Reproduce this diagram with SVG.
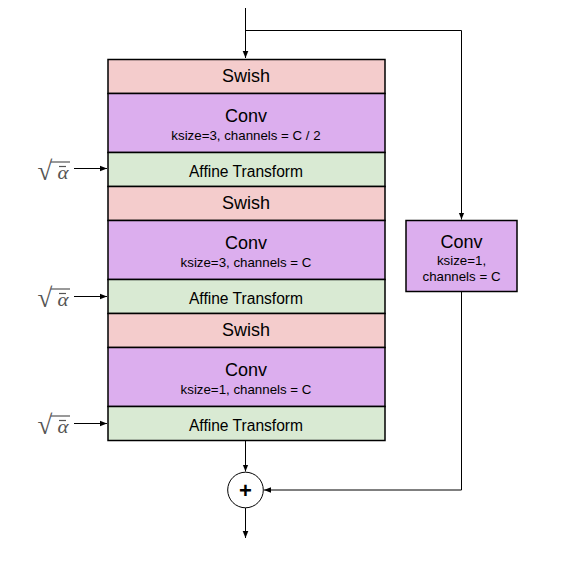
<svg xmlns="http://www.w3.org/2000/svg" width="575" height="566" viewBox="0 0 575 566">
<defs>
<marker id="arr" markerWidth="8" markerHeight="8" refX="7" refY="4" orient="auto" markerUnits="userSpaceOnUse">
<path d="M0,1.2 L7,4 L0,6.8 z" fill="#000"/>
</marker>
<style>
.box{stroke:#000;stroke-width:1.5}
.swish{fill:#f4cccc}
.conv{fill:#dcaeee}
.aff{fill:#d9ead3}
.t{font-family:"Liberation Sans",Arial,sans-serif;text-anchor:middle;fill:#000}
.big{font-size:18px}
.sub{font-size:13.3px}
.af{font-size:15.6px}
.ln{stroke:#000;stroke-width:1;fill:none}
.sq{font-family:"Liberation Serif","DejaVu Serif",serif;fill:#555}
.rad{font-size:27px}
.al{font-size:18px;font-style:italic}
.bar{stroke:#555;stroke-width:1.2}
</style>
</defs>
<rect width="575" height="566" fill="#fff"/>

<g id="swish1"><rect class="box swish" x="108" y="59.5" width="277" height="34"/><text class="t big" x="246" y="82">Swish</text></g>
<g id="conv1"><rect class="box conv" x="108" y="93.5" width="277" height="59"/><text class="t big" x="246" y="121.5">Conv</text><text class="t sub" x="246" y="139.5">ksize=3, channels = C / 2</text></g>
<g id="affine1"><rect class="box aff" x="108" y="152.5" width="277" height="34"/><text class="t af" x="246" y="176.5">Affine Transform</text></g>

<g id="swish2"><rect class="box swish" x="108" y="186.5" width="277" height="34"/><text class="t big" x="246" y="209">Swish</text></g>
<g id="conv2"><rect class="box conv" x="108" y="220.5" width="277" height="59"/><text class="t big" x="246" y="248.5">Conv</text><text class="t sub" x="246" y="266.5">ksize=3, channels = C</text></g>
<g id="affine2"><rect class="box aff" x="108" y="279.5" width="277" height="34"/><text class="t af" x="246" y="303.5">Affine Transform</text></g>

<g id="swish3"><rect class="box swish" x="108" y="313.5" width="277" height="34"/><text class="t big" x="246" y="336">Swish</text></g>
<g id="conv3"><rect class="box conv" x="108" y="347.5" width="277" height="59"/><text class="t big" x="246" y="375.5">Conv</text><text class="t sub" x="246" y="393.5">ksize=1, channels = C</text></g>
<g id="affine3"><rect class="box aff" x="108" y="406.5" width="277" height="34"/><text class="t af" x="246" y="430.5">Affine Transform</text></g>

<g id="convSkip"><rect class="box conv" x="406" y="220.5" width="111" height="71"/><text class="t big" x="461.5" y="247.5">Conv</text><text class="t sub" x="461.5" y="265">ksize=1,</text><text class="t sub" x="461.5" y="280.5">channels = C</text></g>

<g id="sum"><circle cx="245.5" cy="490" r="17.8" fill="#fff" stroke="#000" stroke-width="1"/><text x="245.5" y="497.8" font-family="Liberation Sans,Arial,sans-serif" font-size="22" font-weight="bold" text-anchor="middle">+</text></g>

<g id="alpha1"><text class="sq rad" x="37.5" y="180">√</text><line class="bar" x1="51" y1="162" x2="70" y2="162"/><text class="sq al" x="57.5" y="178.5" textLength="11" lengthAdjust="spacingAndGlyphs">α</text><line class="bar" x1="59" y1="166.5" x2="66" y2="166.5"/></g>
<g id="alpha2"><text class="sq rad" x="37.5" y="307">√</text><line class="bar" x1="51" y1="289" x2="70" y2="289"/><text class="sq al" x="57.5" y="305.5" textLength="11" lengthAdjust="spacingAndGlyphs">α</text><line class="bar" x1="59" y1="293.5" x2="66" y2="293.5"/></g>
<g id="alpha3"><text class="sq rad" x="37.5" y="434">√</text><line class="bar" x1="51" y1="416" x2="70" y2="416"/><text class="sq al" x="57.5" y="432.5" textLength="11" lengthAdjust="spacingAndGlyphs">α</text><line class="bar" x1="59" y1="420.5" x2="66" y2="420.5"/></g>

<g id="connectors">
<path class="ln" d="M245.5,8 V58" marker-end="url(#arr)"/>
<path class="ln" d="M245.5,30.5 H461.5 V219.5" marker-end="url(#arr)"/>
<path class="ln" d="M461.5,292 V490 H264" marker-end="url(#arr)"/>
<path class="ln" d="M245.5,441 V471.5" marker-end="url(#arr)"/>
<path class="ln" d="M245.5,508 V538" marker-end="url(#arr)"/>
<path class="ln" d="M74,168.5 H107" marker-end="url(#arr)"/>
<path class="ln" d="M74,296.5 H107" marker-end="url(#arr)"/>
<path class="ln" d="M74,423.5 H107" marker-end="url(#arr)"/>
</g>
</svg>
